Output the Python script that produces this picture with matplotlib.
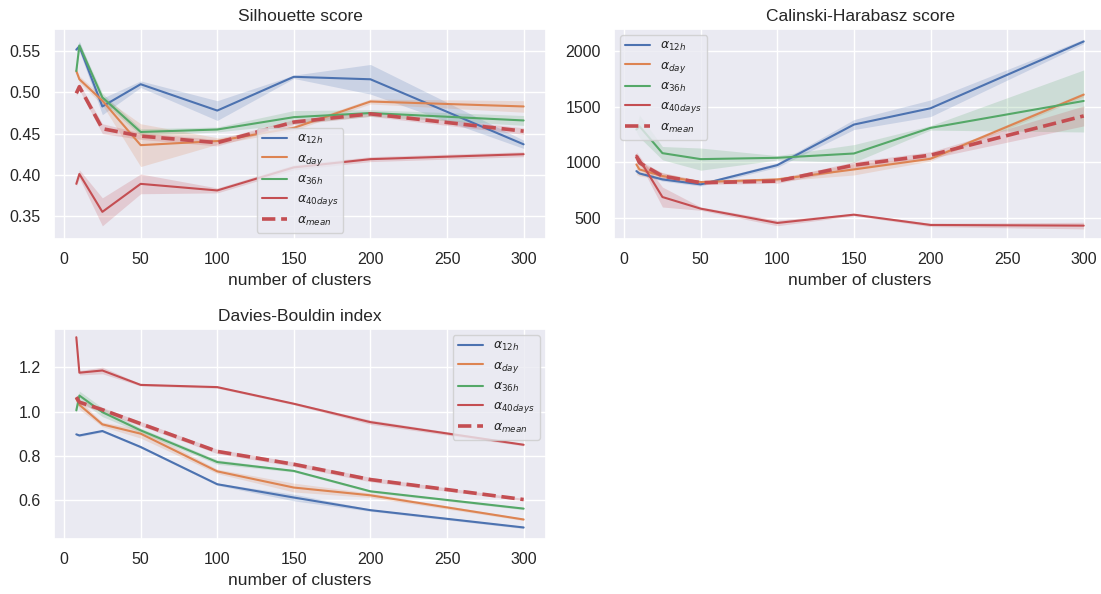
import numpy as np
import matplotlib
matplotlib.use("Agg")
import matplotlib.pyplot as plt
import seaborn as sns

sns.set_theme(style="darkgrid")
plt.rcParams["font.family"] = ["Liberation Sans", "DejaVu Sans"]

n_clusters = [8, 10, 25, 50, 100, 150, 200, 300]
labels = [r"$\alpha_{12h}$", r"$\alpha_{day}$", r"$\alpha_{36h}$",
          r"$\alpha_{40days}$", r"$\alpha_{mean}$"]

# silhouette score, mean and half-width of the band
sil_12h = [0.552, 0.556, 0.483, 0.510, 0.478, 0.519, 0.516, 0.437]
sil_day = [0.526, 0.516, 0.490, 0.436, 0.441, 0.457, 0.489, 0.483]
sil_36h = [0.526, 0.557, 0.494, 0.452, 0.455, 0.470, 0.475, 0.466]
sil_40d = [0.389, 0.401, 0.355, 0.389, 0.381, 0.409, 0.419, 0.425]
sil_mean = [0.499, 0.507, 0.456, 0.447, 0.439, 0.464, 0.474, 0.453]
sil_12h_err = [0.002, 0.006, 0.010, 0.004, 0.012, 0.002, 0.018, 0.005]
sil_day_err = [0.003, 0.004, 0.005, 0.026, 0.004, 0.003, 0.003, 0.007]
sil_36h_err = [0.003, 0.004, 0.005, 0.004, 0.003, 0.008, 0.004, 0.006]
sil_40d_err = [0.003, 0.005, 0.017, 0.012, 0.003, 0.003, 0.003, 0.003]
sil_mean_err = [0.003, 0.004, 0.006, 0.004, 0.004, 0.003, 0.003, 0.004]

# calinski-harabasz score
ch_12h = [920, 899, 845, 800, 974, 1340, 1487, 2090]
ch_day = [980, 935, 875, 821, 845, 935, 1031, 1610]
ch_36h = [1295, 1325, 1082, 1028, 1040, 1079, 1310, 1553]
ch_40d = [1061, 1025, 686, 581, 452, 527, 434, 428]
ch_mean = [1055, 995, 875, 815, 830, 974, 1064, 1418]
ch_12h_err = [10, 10, 15, 15, 20, 45, 75, 20]
ch_day_err = [90, 60, 30, 15, 15, 50, 20, 20]
ch_36h_err = [20, 100, 60, 100, 20, 80, 20, 280]
ch_40d_err = [30, 30, 90, 15, 25, 10, 15, 30]
ch_mean_err = [20, 20, 30, 15, 20, 30, 30, 90]

# davies-bouldin index
db_12h = [0.897, 0.892, 0.912, 0.840, 0.672, 0.612, 0.555, 0.477]
db_day = [1.057, 1.030, 0.942, 0.900, 0.730, 0.657, 0.622, 0.513]
db_36h = [1.005, 1.072, 0.997, 0.915, 0.772, 0.732, 0.640, 0.562]
db_40d = [1.335, 1.175, 1.185, 1.120, 1.110, 1.035, 0.952, 0.850]
db_mean = [1.065, 1.042, 1.008, 0.945, 0.820, 0.762, 0.693, 0.603]
db_12h_err = [0.005, 0.005, 0.005, 0.005, 0.005, 0.015, 0.005, 0.005]
db_day_err = [0.010, 0.020, 0.010, 0.020, 0.010, 0.020, 0.010, 0.005]
db_36h_err = [0.010, 0.020, 0.020, 0.010, 0.010, 0.005, 0.005, 0.005]
db_40d_err = [0.005, 0.010, 0.015, 0.005, 0.005, 0.005, 0.010, 0.005]
db_mean_err = [0.010, 0.010, 0.010, 0.010, 0.010, 0.010, 0.010, 0.005]

colors = sns.color_palette("deep")[:4]
colors = colors + [colors[3]]


def draw(ax, series, errs, title, ylim, loc):
    x = np.array(n_clusters)
    for i, (y, e) in enumerate(zip(series, errs)):
        y = np.array(y)
        e = np.array(e)
        if i == 4:
            ax.plot(x, y, color=colors[i], lw=2.6, ls="--", label=labels[i])
        else:
            ax.plot(x, y, color=colors[i], lw=1.5, label=labels[i])
        ax.fill_between(x, y - e, y + e, color=colors[i], alpha=0.2, lw=0)
    ax.set_title(title, fontsize=12.5)
    ax.set_xlabel("number of clusters", fontsize=12.5)
    ax.set_xlim(-6.6, 314.6)
    ax.set_ylim(*ylim)
    ax.tick_params(labelsize=11.5)
    ax.legend(loc=loc, fontsize=9)


fig = plt.figure(figsize=(11.01, 5.94), dpi=100)
ax1 = fig.add_axes([0.0490, 0.5976, 0.4469, 0.3535])
ax2 = fig.add_axes([0.5577, 0.5976, 0.4469, 0.3535])
ax3 = fig.add_axes([0.0490, 0.0926, 0.4469, 0.3535])

draw(ax1, [sil_12h, sil_day, sil_36h, sil_40d, sil_mean],
     [sil_12h_err, sil_day_err, sil_36h_err, sil_40d_err, sil_mean_err],
     "Silhouette score", (0.322, 0.577), "lower center")
ax1.set_yticks([0.35, 0.40, 0.45, 0.50, 0.55])
draw(ax2, [ch_12h, ch_day, ch_36h, ch_40d, ch_mean],
     [ch_12h_err, ch_day_err, ch_36h_err, ch_40d_err, ch_mean_err],
     "Calinski-Harabasz score", (307, 2202), "upper left")
ax2.set_yticks([500, 1000, 1500, 2000])
draw(ax3, [db_12h, db_day, db_36h, db_40d, db_mean],
     [db_12h_err, db_day_err, db_36h_err, db_40d_err, db_mean_err],
     "Davies-Bouldin index", (0.425, 1.372), "upper right")
ax3.set_yticks([0.6, 0.8, 1.0, 1.2])

fig.savefig("out.png", dpi=100)
